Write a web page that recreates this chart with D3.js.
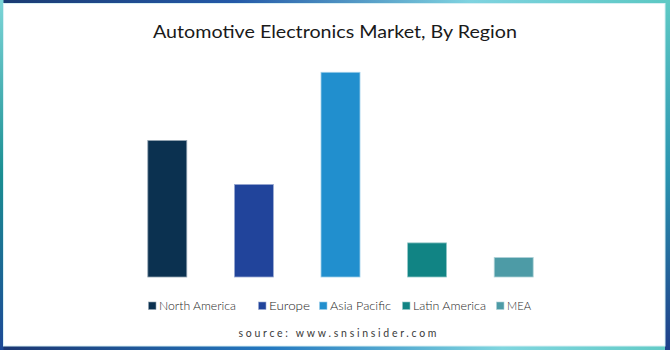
<!DOCTYPE html>
<html>
<head>
<meta charset="utf-8">
<script src="https://cdn.jsdelivr.net/npm/d3@7/dist/d3.min.js"></script>
<style>
html,body{margin:0;padding:0;background:#fff;}
svg{display:block;}
text{font-family:"Century Gothic","Lato","Open Sans",sans-serif;}
</style>
</head>
<body>
<svg id="chart" width="670" height="350"></svg>
<script>
// ---- data ----
const categories = ["North America", "Europe", "Asia Pacific", "Latin America", "MEA"];
const values = [28, 19, 42, 7, 4];          // market share estimate (%)
const colors = ["#0b3150", "#21449b", "#218fce", "#118484", "#4d9ba6"];
const title = "Automotive Electronics Market, By Region";
const source = "source: www.snsinsider.com";

// ---- layout ----
const W = 670, H = 350;
const baseY = 277, topY = 72.3;
const legendX = [148, 258, 319, 402, 496];
const legendW = [77, 41, 61, 73, 24];

const svg = d3.select("#chart");

// frame gradients
const defs = svg.append("defs");
function grad(id, x2, y2, stops) {
  const g = defs.append("linearGradient").attr("id", id)
    .attr("x1", 0).attr("y1", 0).attr("x2", x2).attr("y2", y2);
  stops.forEach(s => g.append("stop").attr("offset", s[0]).attr("stop-color", s[1]));
}
grad("gTop", 1, 0, [[0, "#1b3b72"], [0.35, "#2459a8"], [0.7, "#7fd3e0"], [1, "#5cc8c3"]]);
grad("gBot", 1, 0, [[0, "#1b3570"], [0.4, "#2478c0"], [0.75, "#7fd6df"], [1, "#62cbc6"]]);
grad("gLeft", 0, 1, [[0, "#7dd6d8"], [0.5, "#1a8e92"], [1, "#1d4896"]]);
grad("gRight", 0, 1, [[0, "#5fcac5"], [0.5, "#2a94b0"], [1, "#1f3f8a"]]);

svg.append("rect").attr("x", 0).attr("y", 0).attr("width", W).attr("height", H).attr("fill", "#fff");
svg.append("rect").attr("x", 0).attr("y", 0).attr("width", W).attr("height", 3.5).attr("fill", "url(#gTop)");
svg.append("rect").attr("x", 0).attr("y", H - 4).attr("width", W).attr("height", 4).attr("fill", "url(#gBot)");
svg.append("rect").attr("x", 0).attr("y", 0).attr("width", 3.5).attr("height", H).attr("fill", "url(#gLeft)");
svg.append("rect").attr("x", W - 5).attr("y", 0).attr("width", 5).attr("height", H).attr("fill", "url(#gRight)");
// thin inner light line
svg.append("rect").attr("x", 3.5).attr("y", 3.5).attr("width", W - 8.5).attr("height", H - 7.5)
  .attr("fill", "#fff").attr("stroke", "#d8f0f4").attr("stroke-width", 1);

// title
svg.append("text").attr("x", 335).attr("y", 38).attr("text-anchor", "middle")
  .attr("font-size", 17.5).attr("font-weight", 400).attr("fill", "#1a1a1a")
  .attr("textLength", 364).attr("lengthAdjust", "spacingAndGlyphs")
  .text(title);

// scales
const x = d3.scaleBand().domain(categories).range([124, 557]).paddingInner(0.55).paddingOuter(0.275);
const y = d3.scaleLinear().domain([0, d3.max(values)]).range([baseY, topY]);

svg.append("g").selectAll("rect").data(categories).join("rect")
  .attr("x", d => x(d))
  .attr("y", (d, i) => y(values[i]))
  .attr("width", x.bandwidth())
  .attr("height", (d, i) => baseY - y(values[i]))
  .attr("fill", (d, i) => colors[i])
  .attr("stroke", (d, i) => d3.interpolateRgb(colors[i], "#ffffff")(0.55))
  .attr("stroke-width", 0.8);

// legend
const lg = svg.append("g").selectAll("g").data(categories).join("g")
  .attr("transform", (d, i) => `translate(${legendX[i]},0)`);
lg.append("rect").attr("x", 0.5).attr("y", 302).attr("width", 7.5).attr("height", 7.5)
  .attr("fill", (d, i) => colors[i])
  .attr("stroke", (d, i) => d3.interpolateRgb(colors[i], "#ffffff")(0.55)).attr("stroke-width", 0.6);
lg.append("text").attr("x", 11).attr("y", 310).attr("font-size", 11).attr("font-weight", 300).attr("fill", "#1f1f1f")
  .attr("textLength", (d, i) => legendW[i]).attr("lengthAdjust", "spacingAndGlyphs")
  .text(d => d);

// source
svg.append("text").attr("x", 337.5).attr("y", 336.5).attr("text-anchor", "middle")
  .attr("font-size", 10.5).attr("font-weight", 400).attr("fill", "#3a3a3a")
  .attr("textLength", 198).attr("lengthAdjust", "spacing")
  .text(source);
</script>
</body>
</html>
